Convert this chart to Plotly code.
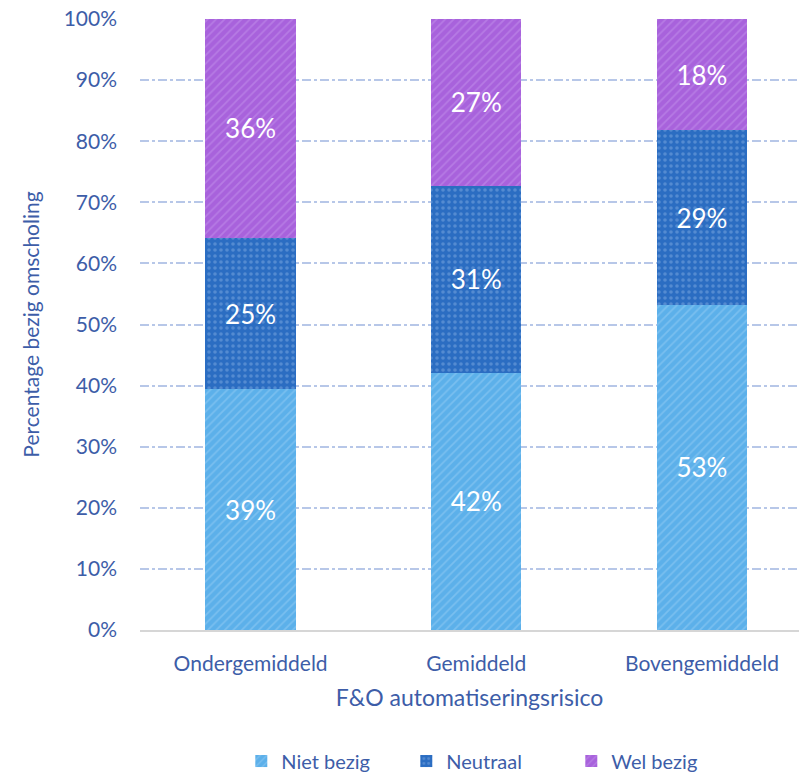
import plotly.graph_objects as go

categories = ["Ondergemiddeld", "Gemiddeld", "Bovengemiddeld"]
niet_bezig = [39.4, 42.1, 53.2]
neutraal = [24.8, 30.6, 28.6]
wel_bezig = [35.8, 27.3, 18.2]
y_ticks = [0, 10, 20, 30, 40, 50, 60, 70, 80, 90, 100]
y_tick_labels = [f"{t}%" for t in y_ticks]

FONT = "Lato, Open Sans, sans-serif"
TEXT_BLUE = "#3d5da8"

series = [
    ("Niet bezig", niet_bezig, "#5cb0ea", "/", "rgba(190,225,250,0.6)"),
    ("Neutraal", neutraal, "#2b6dc2", ".", "rgba(170,200,240,0.65)"),
    ("Wel bezig", wel_bezig, "#a862dc", "/", "rgba(215,180,245,0.6)"),
]

fig = go.Figure()
for name, vals, color, shape, fg in series:
    fig.add_trace(go.Bar(
        name=name,
        x=categories,
        y=vals,
        width=0.40,
        marker=dict(
            color=color,
            line=dict(width=0),
            pattern=dict(shape=shape, fgcolor=fg, size=6, solidity=0.28,
                         fillmode="overlay"),
        ),
        texttemplate="%{y:.0f}%",
        textposition="inside",
        insidetextanchor="middle",
        textfont=dict(family=FONT, size=26, color="white"),
        hoverinfo="skip",
    ))

fig.update_layout(
    barmode="stack",
    width=799,
    height=775,
    margin=dict(l=140, r=0, t=19, b=145, autoexpand=False),
    paper_bgcolor="white",
    plot_bgcolor="white",
    font=dict(family=FONT, color=TEXT_BLUE, size=20),
    legend=dict(
        orientation="h",
        xref="container",
        yref="container",
        x=0.302, xanchor="left",
        y=0.018, yanchor="middle",
        font=dict(size=20, color=TEXT_BLUE),
        entrywidth=120,
        itemwidth=30,
        traceorder="normal",
    ),
    xaxis=dict(
        range=[-0.49, 2.43],
        showgrid=False,
        showline=True,
        linecolor="#d6d6d6",
        linewidth=2,
        ticks="",
        ticklabelstandoff=14,
        automargin=False,
        tickfont=dict(size=21, color=TEXT_BLUE),
        title=dict(text="F&O automatiseringsrisico", font=dict(size=23, color=TEXT_BLUE),
                   standoff=16),
    ),
    yaxis=dict(
        range=[0, 100],
        tickvals=y_ticks,
        ticktext=y_tick_labels,
        showgrid=True,
        gridcolor="#b7c7e8",
        griddash="dashdot",
        gridwidth=1.5,
        zeroline=False,
        showline=False,
        ticks="",
        automargin=False,
        ticklabelstandoff=22,
        tickfont=dict(size=21, color=TEXT_BLUE),
        title=dict(text="Percentage bezig omscholing", font=dict(size=21, color=TEXT_BLUE),
                   standoff=18),
    ),
)

fig.write_html("out.html")
